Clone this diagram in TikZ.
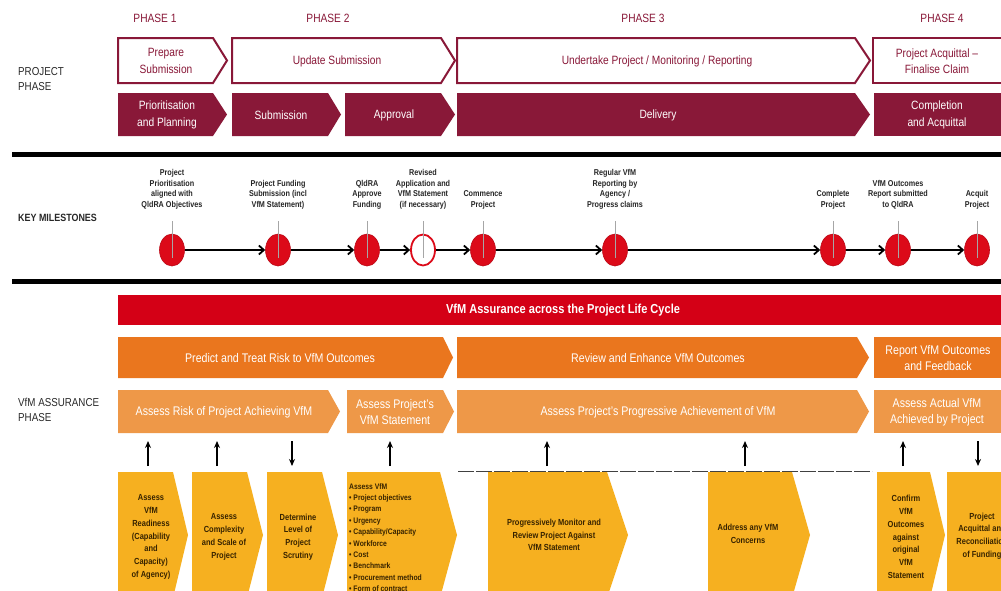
\documentclass[tikz,border=0pt]{standalone}
\usepackage{fontspec}
\setmainfont{Liberation Sans}[FakeStretch=0.85]
\usetikzlibrary{arrows.meta,shapes.geometric}
\definecolor{mymaroon}{RGB}{137,24,56}
\definecolor{barred}{RGB}{212,0,22}
\definecolor{orangeA}{RGB}{234,118,30}
\definecolor{orangeB}{RGB}{238,152,72}
\definecolor{yellowC}{RGB}{246,176,32}
\definecolor{msred}{RGB}{220,10,25}
\definecolor{ytext}{RGB}{55,35,0}
\definecolor{lbltext}{RGB}{40,40,40}
\newcommand{\chv}[6]{\path[#1] (#2,#3) -- (#4,#3) -- (#5,{(#3+#6)/2}) -- (#4,#6) -- (#2,#6) -- cycle;}
\begin{document}
\begin{tikzpicture}[x=1pt,y=-1pt,
  rowone/.style={draw=mymaroon,line width=2pt,fill=white},
  rowtwo/.style={fill=mymaroon},
  oa/.style={fill=orangeA},
  ob/.style={fill=orangeB},
  yb/.style={fill=yellowC},
  phaselbl/.style={text=mymaroon,font=\fontsize{12}{14}\selectfont,inner sep=0},
  sidelbl/.style={text=lbltext,align=left,anchor=west,inner sep=0,font=\fontsize{11.5}{15}\selectfont},
  ctext/.style={align=center,inner sep=0,font=\fontsize{12}{16.5}\selectfont},
  wtext/.style={ctext,text=white},
  mtext/.style={ctext,text=mymaroon},
  otext/.style={ctext,text=white,font=\fontsize{12.5}{16}\selectfont},
  bartext/.style={text=white,inner sep=0,font=\bfseries\fontsize{13}{15}\selectfont},
  ms/.style={ellipse,fill=msred,draw=msred!85!black,line width=0.6pt,minimum width=25pt,minimum height=32pt,inner sep=0},
  msopen/.style={ellipse,fill=white,draw=msred,line width=1.8pt,minimum width=24pt,minimum height=31pt,inner sep=0},
  msline/.style={black,line width=1.8pt,-{Straight Barb[length=5pt,width=9pt,line width=1.8pt]}},
  pinline/.style={gray!70,line width=1pt},
  mlabel/.style={align=center,inner sep=0,anchor=south,text=black!85,font=\bfseries\fontsize{8.5}{10.5}\selectfont},
  ylabel/.style={align=center,inner sep=0,text=ytext,font=\bfseries\fontsize{8.8}{12.8}\selectfont},
  vert/.style={black,line width=1.6pt,-{Stealth[length=7pt,width=6pt]}},
  dashline/.style={black!75,line width=1pt,dash pattern=on 16pt off 2pt},
  thickrule/.style={black,line width=5pt}
]
\useasboundingbox (0,0) rectangle (1001,590);
\clip (0,0) rectangle (1001,590);
\fill[white] (0,0) rectangle (1001,590);

% ---------------- PROJECT PHASE ----------------
\node[phaselbl] (ph1) at (155,18) {PHASE 1};
\node[phaselbl] (ph2) at (328,18) {PHASE 2};
\node[phaselbl] (ph3) at (643,18) {PHASE 3};
\node[phaselbl] (ph4) at (942,18) {PHASE 4};

\node[sidelbl] (lproj) at (18,79) {PROJECT\\PHASE};

\chv{rowone}{118}{38}{213}{227}{83}
\chv{rowone}{232}{38}{441}{455}{83}
\chv{rowone}{457}{38}{855}{870}{83}
\path[rowone] (873,38) rectangle (1006,83);

\node[mtext] (t11) at (166,61) {Prepare\\Submission};
\node[mtext] (t12) at (337,61) {Update Submission};
\node[mtext] (t13) at (657,61) {Undertake Project / Monitoring / Reporting};
\node[mtext] (t14) at (937,61) {Project Acquittal –\\Finalise Claim};

\chv{rowtwo}{118}{93}{213}{227}{136}
\chv{rowtwo}{232}{93}{328}{341}{136}
\chv{rowtwo}{345}{93}{441}{455}{136}
\chv{rowtwo}{457}{93}{855}{870}{136}
\path[rowtwo] (874,93) rectangle (1006,136);

\node[wtext] (t21) at (167,115) {Prioritisation\\and Planning};
\node[wtext] (t22) at (281,115) {Submission};
\node[wtext] (t23) at (394,115) {Approval};
\node[wtext] (t24) at (658,115) {Delivery};
\node[wtext] (t25) at (937,115) {Completion\\and Acquittal};

% ---------------- KEY MILESTONES ----------------
\draw[thickrule] (12,154.5) -- (1001,154.5);
\draw[thickrule] (12,281) -- (1001,281);

\node[sidelbl,font=\bfseries\fontsize{10.5}{13}\selectfont] (lkey) at (18,218) {KEY MILESTONES};

\node[ms] (m1) at (172,250) {};
\node[ms] (m2) at (278,250) {};
\node[ms] (m3) at (367,250) {};
\node[msopen] (m4) at (423,250) {};
\node[ms] (m5) at (483,250) {};
\node[ms] (m6) at (615,250) {};
\node[ms] (m7) at (833,250) {};
\node[ms] (m8) at (898,250) {};
\node[ms] (m9) at (977,250) {};

\foreach \a/\b in {m1/m2,m2/m3,m3/m4,m4/m5,m5/m6,m6/m7,m7/m8,m8/m9}
  \draw[msline] (\a) -- (\b);

\foreach \x in {172,278,367,423,483,615,833,898,977}
  \draw[pinline] (\x,221) -- (\x,258);

\node[mlabel] (l1) at (172,209) {Project\\Prioritisation\\aligned with\\QldRA Objectives};
\node[mlabel] (l2) at (278,209) {Project Funding\\Submission (incl\\VfM Statement)};
\node[mlabel] (l3) at (367,209) {QldRA\\Approve\\Funding};
\node[mlabel] (l4) at (423,209) {Revised\\Application and\\VfM Statement\\(if necessary)};
\node[mlabel] (l5) at (483,209) {Commence\\Project};
\node[mlabel] (l6) at (615,209) {Regular VfM\\Reporting by\\Agency /\\Progress claims};
\node[mlabel] (l7) at (833,209) {Complete\\Project};
\node[mlabel] (l8) at (898,209) {VfM Outcomes\\Report submitted\\to QldRA};
\node[mlabel] (l9) at (977,209) {Acquit\\Project};

% ---------------- VfM ASSURANCE PHASE ----------------
\node[sidelbl] (lvfm) at (18,410) {VfM ASSURANCE\\PHASE};

\fill[barred] (118,295) rectangle (1006,325);
\node[bartext] (bar) at (563,310) {VfM Assurance across the Project Life Cycle};

\chv{oa}{118}{337}{443}{453}{378}
\chv{oa}{457}{337}{857}{869}{378}
\path[oa] (874,337) rectangle (1006,378);

\node[otext] (o11) at (280,358) {Predict and Treat Risk to VfM Outcomes};
\node[otext] (o12) at (658,358) {Review and Enhance VfM Outcomes};
\node[otext] (o13) at (938,358) {Report VfM Outcomes\\and Feedback};

\chv{ob}{118}{390}{328}{340}{433}
\chv{ob}{347}{390}{443}{454}{433}
\chv{ob}{457}{390}{857}{869}{433}
\path[ob] (874,390) rectangle (1006,433);

\node[otext] (o21) at (224,412) {Assess Risk of Project Achieving VfM};
\node[otext] (o22) at (395,412) {Assess Project's\\VfM Statement};
\node[otext] (o23) at (658,412) {Assess Project's Progressive Achievement of VfM};
\node[otext] (o24) at (937,412) {Assess Actual VfM\\Achieved by Project};

% vertical arrows
\foreach \i/\x in {1/148,2/217,4/390,5/547,6/745,7/903}{
  \coordinate (ua\i) at (\x,466);
  \coordinate (ub\i) at (\x,441);
  \draw[vert] (ua\i) -- (ub\i);
}
\foreach \i/\x in {3/292,8/978}{
  \coordinate (da\i) at (\x,441);
  \coordinate (db\i) at (\x,466);
  \draw[vert] (da\i) -- (db\i);
}

% dashed line behind activity boxes
\coordinate (dl1) at (458,471);
\coordinate (dl2) at (872,471);
\draw[dashline] (dl1) -- (dl2);

% activity boxes
\chv{yb}{118}{472}{173}{188}{598}
\chv{yb}{192}{472}{247}{263}{598}
\chv{yb}{267}{472}{322}{338}{598}
\chv{yb}{347}{472}{440}{457}{598}
\chv{yb}{488}{472}{607}{628}{598}
\chv{yb}{708}{472}{792}{810}{598}
\chv{yb}{877}{472}{930}{945}{598}
\path[yb] (947,472) rectangle (1006,598);

\node[ylabel] (y1) at (151,537) {Assess\\VfM\\Readiness\\(Capability\\and\\Capacity)\\of Agency)};
\node[ylabel] (y2) at (224,537) {Assess\\Complexity\\and Scale of\\Project};
\node[ylabel] (y3) at (298,537) {Determine\\Level of\\Project\\Scrutiny};
\node[ylabel,align=left,anchor=north west,font=\bfseries\fontsize{8}{11.4}\selectfont] (y4) at (349,483)
  {Assess VfM\\• Project objectives\\• Program\\• Urgency\\• Capability/Capacity\\• Workforce\\• Cost\\• Benchmark\\• Procurement method\\• Form of contract};
\node[ylabel] (y5) at (554,535) {Progressively Monitor and\\Review Project Against\\VfM Statement};
\node[ylabel] (y6) at (748,534) {Address any VfM\\Concerns};
\node[ylabel] (y7) at (906,537) {Confirm\\VfM\\Outcomes\\against\\original\\VfM\\Statement};
\node[ylabel] (y8) at (982,536) {Project\\Acquittal and\\Reconciliation\\of Funding};
\end{tikzpicture}
\end{document}
